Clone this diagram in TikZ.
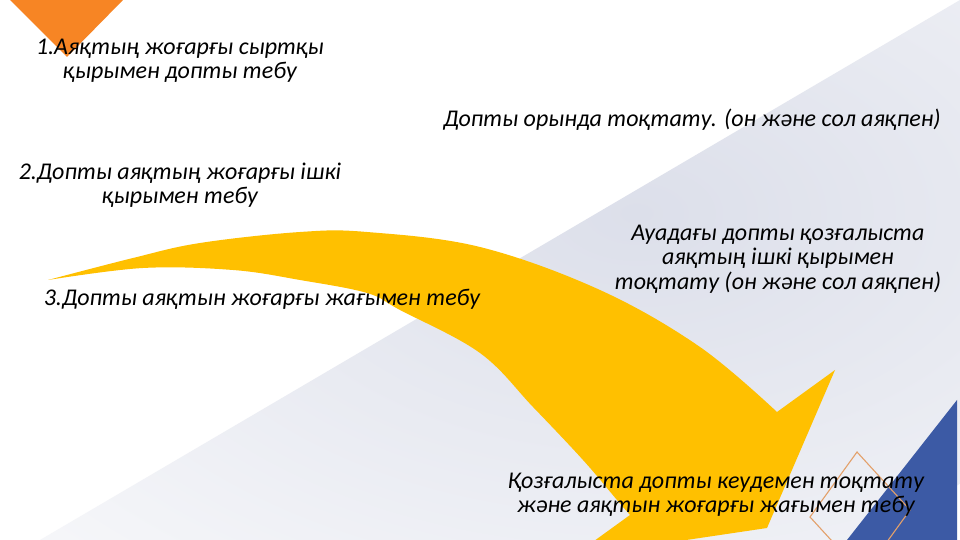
\documentclass[tikz,border=0pt]{standalone}
\usepackage{fontspec}
\setmainfont{Carlito}
\definecolor{arrowyellow}{HTML}{FFC000}
\definecolor{cornerorange}{HTML}{F78524}
\definecolor{cornerblue}{HTML}{3C5AA5}
\definecolor{diamondline}{HTML}{E3A06A}
\definecolor{lav}{HTML}{DCDFEA}
\tikzset{
  lbl/.style={font=\fontsize{24}{24.5}\selectfont\itshape, text=black, align=center, inner sep=0pt},
}
\begin{document}
\begin{tikzpicture}[x=1pt,y=1pt]
\useasboundingbox (0,0) rectangle (960,540);
\clip (0,0) rectangle (960,540);
\fill[white] (0,0) rectangle (960,540);
% background gradient triangle
\begin{scope}
  \clip (40,0) -- (960,540) -- (960,0) -- cycle;
  \begin{scope}[shift={(40,0)}, rotate=30.4]
    \shade[inner color=lav, outer color=white] (680,-20) ellipse [x radius=1150, y radius=400];
  \end{scope}
\end{scope}
% orange corner triangle
\fill[cornerorange] (10,540) -- (123,540) -- (67,483) -- cycle;
% blue corner triangle
\fill[cornerblue] (957,140) -- (847,0) -- (957,0) -- cycle;
% diamond outline
\draw[diamondline, line width=1.1pt] (857,88) -- (910,30) -- (863,-35) -- (810,23) -- cycle;
% curved yellow arrow
\fill[arrowyellow]
  plot[smooth, tension=0.6] coordinates {(48,260) (133,282) (200,297) (300,308) (367,308) (480,293) (600,250) (700,193) (777,128)}
  -- (835,170) -- (767,12) -- (572,-17) --
  plot[smooth, tension=0.6] coordinates {(630,25) (617,40) (583,80) (533,133) (480,187) (400,230) (367,247) (300,260) (233,270) (143,272) (48,260)}
  -- cycle;
% labels
\node[lbl] (t1) at (180,479) {1.Аяқтың жоғарғы сыртқы\\қырымен допты тебу};
\node[lbl] (t2) at (692,420) {Допты орында тоқтату. (он және сол аяқпен)};
\node[lbl] (t3) at (180,355) {2.Допты аяқтың жоғарғы ішкі\\қырымен тебу};
\node[lbl] (t4) at (778,281) {Ауадағы допты қозғалыста\\аяқтың ішкі қырымен\\тоқтату (он және сол аяқпен)};
\node[lbl] (t5) at (262,241) {3.Допты аяқтын жоғарғы жағымен тебу};
\node[lbl] (t6) at (716,45) {Қозғалыста допты кеудемен тоқтату\\және аяқтын жоғарғы жағымен тебу};
\end{tikzpicture}
\end{document}
